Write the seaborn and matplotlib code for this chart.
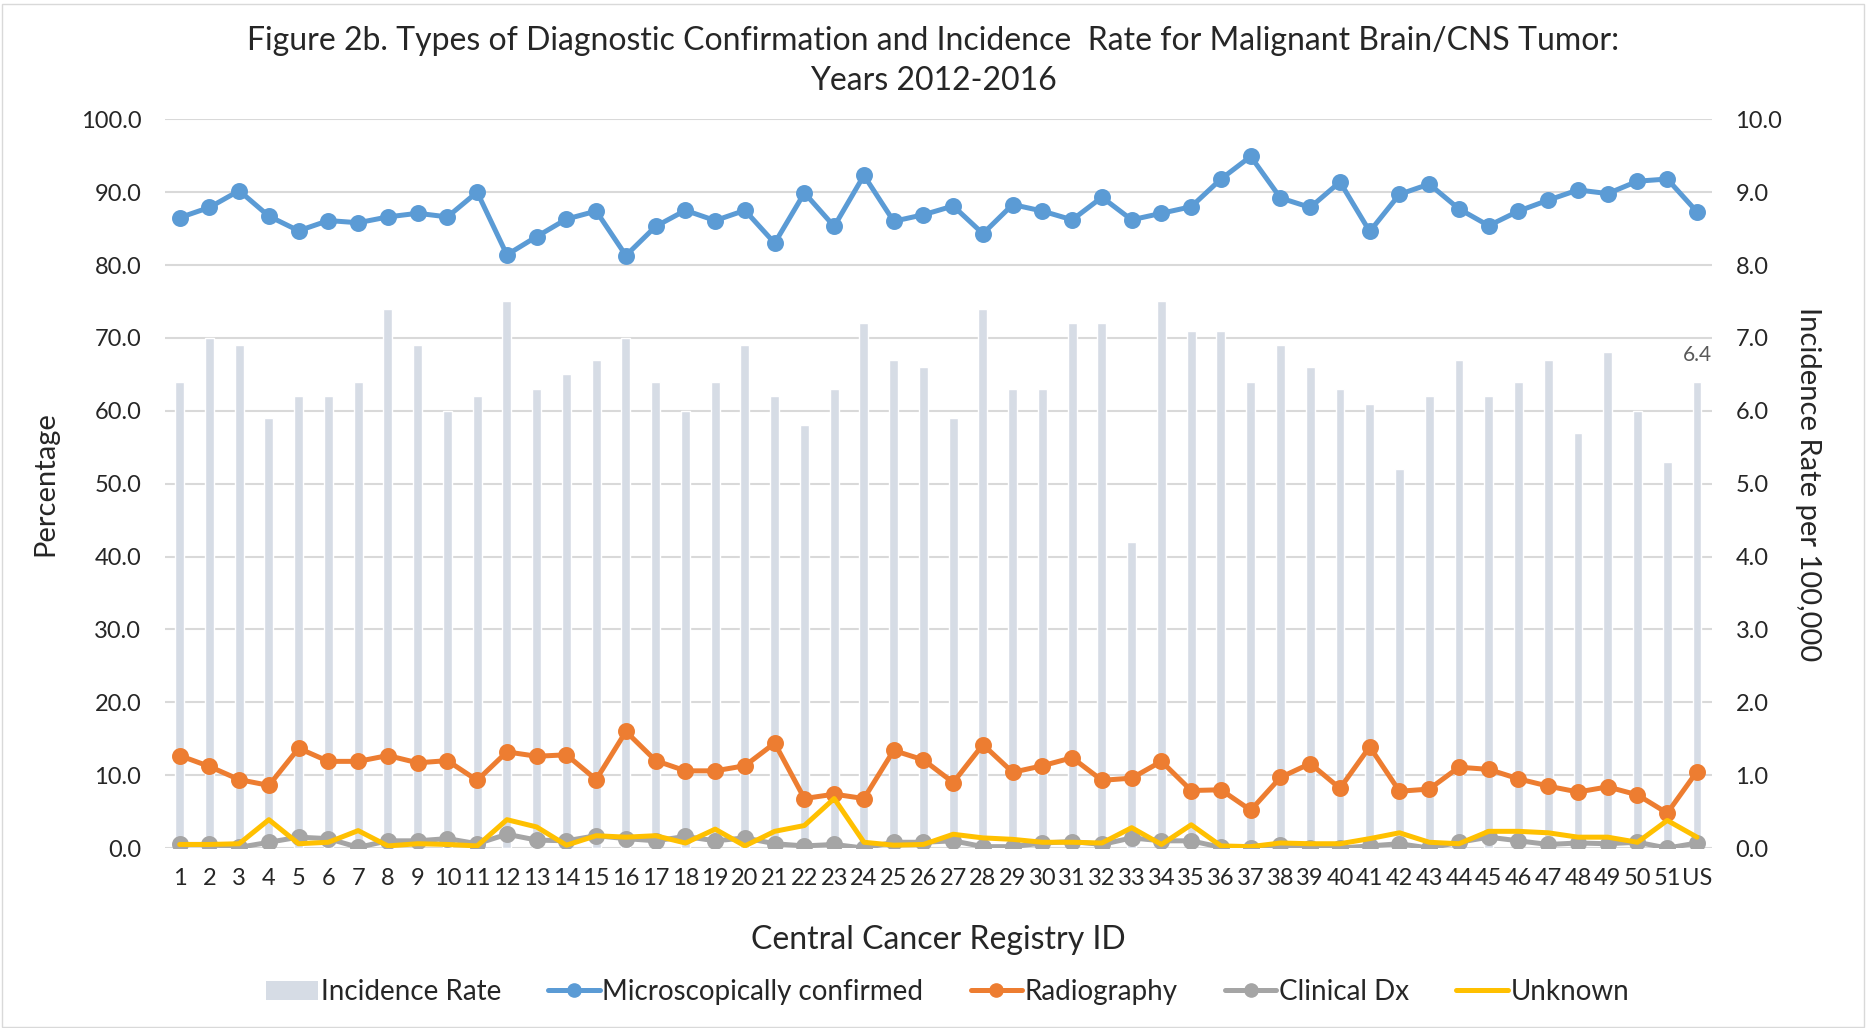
import numpy as np
import pandas as pd
import matplotlib
matplotlib.use('Agg')
import matplotlib.pyplot as plt
from matplotlib.patches import Patch, Rectangle
from matplotlib.lines import Line2D
import seaborn as sns

################################################################################
# data
registry_ids = [str(i) for i in range(1, 52)] + ['US']

incidence_rate = [6.4, 7.0, 6.9, 5.9, 6.2, 6.2, 6.4, 7.4, 6.9, 6.0,
                  6.2, 7.5, 6.3, 6.5, 6.7, 7.0, 6.4, 6.0, 6.4, 6.9,
                  6.2, 5.8, 6.3, 7.2, 6.7, 6.6, 5.9, 7.4, 6.3, 6.3,
                  7.2, 7.2, 4.2, 7.5, 7.1, 7.1, 6.4, 6.9, 6.6, 6.3,
                  6.1, 5.2, 6.2, 6.7, 6.2, 6.4, 6.7, 5.7, 6.8, 6.0,
                  5.3, 6.4]

microscopic = [86.5, 87.9, 90.2, 86.7, 84.7, 86.1, 85.8, 86.6, 87.1, 86.6,
               90.0, 81.4, 83.9, 86.3, 87.4, 81.3, 85.3, 87.5, 86.1, 87.5,
               83.0, 89.9, 85.3, 92.3, 86.0, 86.9, 88.1, 84.3, 88.3, 87.4,
               86.2, 89.3, 86.2, 87.1, 88.0, 91.8, 94.9, 89.2, 87.9, 91.4,
               84.6, 89.7, 91.1, 87.7, 85.4, 87.4, 88.9, 90.3, 89.8, 91.5,
               91.8, 87.3]

radiography = [12.7, 11.2, 9.4, 8.6, 13.7, 11.9, 11.9, 12.7, 11.7, 12.0,
               9.3, 13.2, 12.6, 12.8, 9.4, 16.0, 12.0, 10.6, 10.6, 11.3,
               14.4, 6.8, 7.4, 6.8, 13.4, 12.1, 9.0, 14.2, 10.4, 11.3,
               12.4, 9.3, 9.6, 11.9, 7.9, 8.0, 5.2, 9.7, 11.6, 8.2,
               13.9, 7.8, 8.1, 11.1, 10.8, 9.5, 8.5, 7.7, 8.4, 7.3,
               4.8, 10.5]

clinical_dx = [0.5, 0.5, 0.1, 0.8, 1.5, 1.3, 0.1, 1.0, 1.0, 1.3,
               0.6, 1.9, 1.1, 1.0, 1.7, 1.3, 1.0, 1.6, 1.0, 1.4,
               0.6, 0.3, 0.5, 0.0, 0.8, 0.8, 1.0, 0.2, 0.2, 0.7,
               0.9, 0.5, 1.4, 1.0, 1.0, 0.1, 0.0, 0.4, 0.0, 0.0,
               0.3, 0.6, 0.0, 0.8, 1.5, 1.0, 0.5, 0.7, 0.6, 0.8,
               0.0, 0.7]

unknown = [0.5, 0.5, 0.6, 3.9, 0.6, 0.8, 2.4, 0.3, 0.6, 0.5,
           0.3, 3.9, 2.9, 0.4, 1.7, 1.5, 1.7, 0.7, 2.6, 0.3,
           2.3, 3.1, 6.8, 0.8, 0.4, 0.5, 1.9, 1.4, 1.2, 0.8,
           0.8, 0.7, 2.8, 0.5, 3.2, 0.3, 0.2, 0.7, 0.6, 0.6,
           1.3, 2.1, 0.8, 0.6, 2.3, 2.3, 2.1, 1.5, 1.5, 0.8,
           3.8, 1.5]

df = pd.DataFrame({'id': registry_ids,
                   'rate': incidence_rate,
                   'micro': microscopic,
                   'radio': radiography,
                   'clinical': clinical_dx,
                   'unknown': unknown})

################################################################################
sns.set_theme(style='white')
plt.rcParams['font.family'] = ['Lato', 'DejaVu Sans']

C_BAR = '#D6DCE5'
C_MICRO = '#5B9BD5'
C_RADIO = '#ED7D31'
C_CLIN = '#A5A5A5'
C_UNK = '#FFC000'
C_GRID = '#D9D9D9'
C_TEXT = '#262626'
LW = 3.6
MS = 9.5

fig = plt.figure(figsize=(18.66, 10.28), dpi=100)
ax1 = fig.add_axes([0.0883, 0.175, 0.8291, 0.709])
ax2 = ax1.twinx()

# bars on the secondary (right) axis, drawn underneath
sns.barplot(data=df, x='id', y='rate', ax=ax2, color=C_BAR, width=0.3,
            saturation=1, errorbar=None)
ax2.set_ylim(0, 10)
ax2.set_yticks(np.arange(0, 11, 1))
ax2.set_yticklabels([f'{v:.1f}' for v in np.arange(0, 11, 1)])
ax2.yaxis.grid(True, color=C_GRID, linewidth=1.5)
ax2.set_axisbelow(True)
ax2.set_ylabel('Incidence Rate per 100,000', fontsize=21, color=C_TEXT,
               rotation=270, labelpad=28)
ax2.annotate('6.4', (51, incidence_rate[-1]), xytext=(0, 12),
             textcoords='offset points', ha='center', va='bottom',
             fontsize=15, color='#595959')

# lines on the primary (left) axis, drawn on top
ax1.set_zorder(ax2.get_zorder() + 1)
ax1.patch.set_visible(False)
line_kw = dict(errorbar=None, linewidth=LW)
sns.pointplot(data=df, x='id', y='micro', ax=ax1, color=C_MICRO,
              markers='o', markersize=MS, **line_kw)
sns.pointplot(data=df, x='id', y='radio', ax=ax1, color=C_RADIO,
              markers='o', markersize=MS, **line_kw)
sns.pointplot(data=df, x='id', y='clinical', ax=ax1, color=C_CLIN,
              markers='o', markersize=MS, **line_kw)
sns.pointplot(data=df, x='id', y='unknown', ax=ax1, color=C_UNK,
              markers='o', markersize=0, **line_kw)

ax1.set_ylim(0, 100)
ax1.set_yticks(np.arange(0, 101, 10))
ax1.set_yticklabels([f'{v:.1f}' for v in np.arange(0, 101, 10)])
ax1.set_xlim(-0.5, len(registry_ids) - 0.5)
ax1.set_xticks(range(len(registry_ids)))
ax1.set_xticklabels(registry_ids)
ax1.set_xlabel('Central Cancer Registry ID', fontsize=23, color=C_TEXT,
               labelpad=26)
ax1.set_ylabel('Percentage', fontsize=21, color=C_TEXT, labelpad=16)

for ax in (ax1, ax2):
    for s in ax.spines.values():
        s.set_visible(False)
    ax.tick_params(axis='both', length=0, labelsize=17, colors=C_TEXT)
ax1.tick_params(axis='y', pad=17)
ax1.tick_params(axis='x', pad=14)
ax2.tick_params(axis='y', pad=17)

fig.suptitle('Figure 2b. Types of Diagnostic Confirmation and Incidence  Rate for Malignant Brain/CNS Tumor:\nYears 2012-2016',
             fontsize=23, color=C_TEXT, y=0.975, linespacing=1.42)

handles = [Patch(facecolor=C_BAR, edgecolor='none'),
           Line2D([], [], color=C_MICRO, lw=LW, marker='o', markersize=MS),
           Line2D([], [], color=C_RADIO, lw=LW, marker='o', markersize=MS),
           Line2D([], [], color=C_CLIN, lw=LW, marker='o', markersize=MS),
           Line2D([], [], color=C_UNK, lw=LW)]
labels = ['Incidence Rate', 'Microscopically confirmed', 'Radiography',
          'Clinical Dx', 'Unknown']
fig.legend(handles, labels, loc='center', bbox_to_anchor=(0.508, 0.035),
           ncol=5, frameon=False, fontsize=20, handlelength=1.85,
           handletextpad=0.1, columnspacing=1.7, labelcolor=C_TEXT)

fig.add_artist(Rectangle((0.001, 0.001), 0.998, 0.995, transform=fig.transFigure,
                         fill=False, edgecolor=C_GRID, linewidth=1))

fig.savefig('out.png', dpi=100)
